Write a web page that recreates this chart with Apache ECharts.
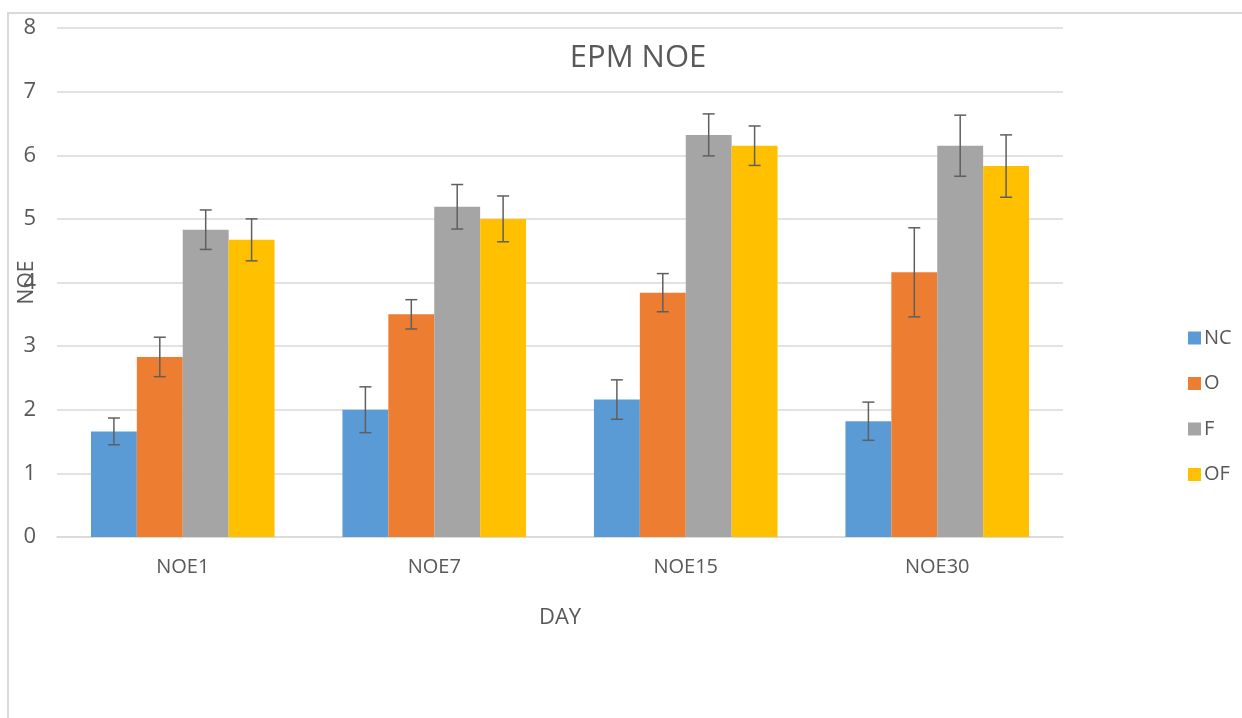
<!DOCTYPE html>
<html>
<head>
<meta charset="utf-8">
<script src="https://cdn.jsdelivr.net/npm/echarts@6/dist/echarts.min.js"></script>
<style>
html,body{margin:0;padding:0;background:#fff;}
#chart{width:1242px;height:718px;}
</style>
</head>
<body>
<div id="chart"></div>
<script>
const categories = ['NOE1', 'NOE7', 'NOE15', 'NOE30'];
const seriesNames = ['NC', 'O', 'F', 'OF'];
const ncMean = [1.66, 2.00, 2.16, 1.82];
const oMean  = [2.83, 3.50, 3.84, 4.16];
const fMean  = [4.83, 5.19, 6.32, 6.15];
const ofMean = [4.67, 5.00, 6.15, 5.83];
const ncErr = [0.21, 0.36, 0.31, 0.30];
const oErr  = [0.31, 0.23, 0.30, 0.70];
const fErr  = [0.31, 0.35, 0.33, 0.48];
const ofErr = [0.33, 0.36, 0.31, 0.49];
const yTicks = [0, 1, 2, 3, 4, 5, 6, 7, 8];

const means = [ncMean, oMean, fMean, ofMean];
const errs = [ncErr, oErr, fErr, ofErr];
const colors = ['#5B9BD5', '#ED7D31', '#A5A5A5', '#FFC000'];
const FONT = 'Open Sans';
const GAP = 0.27;

const chart = echarts.init(document.getElementById('chart'));

const barSeries = seriesNames.map((name, i) => ({
  name: name,
  type: 'bar',
  data: means[i],
  barGap: '0%',
  barCategoryGap: (GAP * 100) + '%',
  itemStyle: { color: colors[i] },
  z: 2
}));

const errSeries = seriesNames.map((name, i) => ({
  name: name + '_err',
  type: 'custom',
  data: means[i].map((m, k) => [k, m - errs[i][k], m + errs[i][k]]),
  encode: { x: 0, y: [1, 2] },
  z: 5,
  silent: true,
  renderItem: function (params, api) {
    const lo = api.coord([api.value(0), api.value(1)]);
    const hi = api.coord([api.value(0), api.value(2)]);
    const band = api.size([1, 0])[0];
    const barW = band * (1 - GAP) / 4;
    const xc = lo[0] + (i - 1.5) * barW;
    const cap = 6;
    const st = { stroke: '#5f5f5f', lineWidth: 1.5, fill: 'none' };
    return {
      type: 'group',
      children: [
        { type: 'line', shape: { x1: xc, y1: hi[1], x2: xc, y2: lo[1] }, style: st },
        { type: 'line', shape: { x1: xc - cap, y1: hi[1], x2: xc + cap, y2: hi[1] }, style: st },
        { type: 'line', shape: { x1: xc - cap, y1: lo[1], x2: xc + cap, y2: lo[1] }, style: st }
      ]
    };
  }
}));

const option = {
  backgroundColor: '#ffffff',
  animation: false,
  textStyle: { fontFamily: FONT },
  graphic: [{
    type: 'rect',
    shape: { x: 8, y: 13, width: 1300, height: 800 },
    style: { fill: 'none', stroke: '#d9d9d9', lineWidth: 2 },
    z: -10
  }],
  title: {
    text: 'EPM NOE',
    left: 633,
    textAlign: 'center',
    top: 38,
    textStyle: { fontFamily: FONT, fontSize: 31, fontWeight: 'normal', color: '#595959' }
  },
  legend: {
    data: seriesNames,
    orient: 'vertical',
    left: 1183,
    top: 323,
    icon: 'rect',
    itemWidth: 13,
    itemHeight: 13,
    itemGap: 25.5,
    textStyle: { fontFamily: FONT, fontSize: 20, color: '#595959', lineHeight: 20, padding: [0, 0, 0, -2] }
  },
  grid: { left: 57, right: 179, top: 28, bottom: 181, containLabel: false, outerBoundsMode: 'none' },
  xAxis: {
    type: 'category',
    data: categories,
    name: 'DAY',
    nameLocation: 'middle',
    nameGap: 70,
    nameMoveOverlap: false,
    nameTextStyle: { fontFamily: FONT, fontSize: 22, color: '#595959' },
    axisLine: { lineStyle: { color: '#d9d9d9', width: 1.5 } },
    axisTick: { show: false },
    axisLabel: { fontFamily: FONT, fontSize: 20, color: '#595959', margin: 20 }
  },
  yAxis: {
    type: 'value',
    min: yTicks[0],
    max: yTicks[yTicks.length - 1],
    interval: 1,
    name: 'NOE',
    nameLocation: 'middle',
    nameGap: 19,
    nameMoveOverlap: false,
    nameRotate: 90,
    nameTextStyle: { fontFamily: FONT, fontSize: 21, color: '#595959' },
    axisLine: { show: false },
    axisTick: { show: false },
    splitLine: { lineStyle: { color: '#d9d9d9', width: 1.5 } },
    axisLabel: { fontFamily: FONT, fontSize: 22, color: '#595959', margin: 21 }
  },
  series: barSeries.concat(errSeries)
};

chart.setOption(option);
</script>
</body>
</html>
